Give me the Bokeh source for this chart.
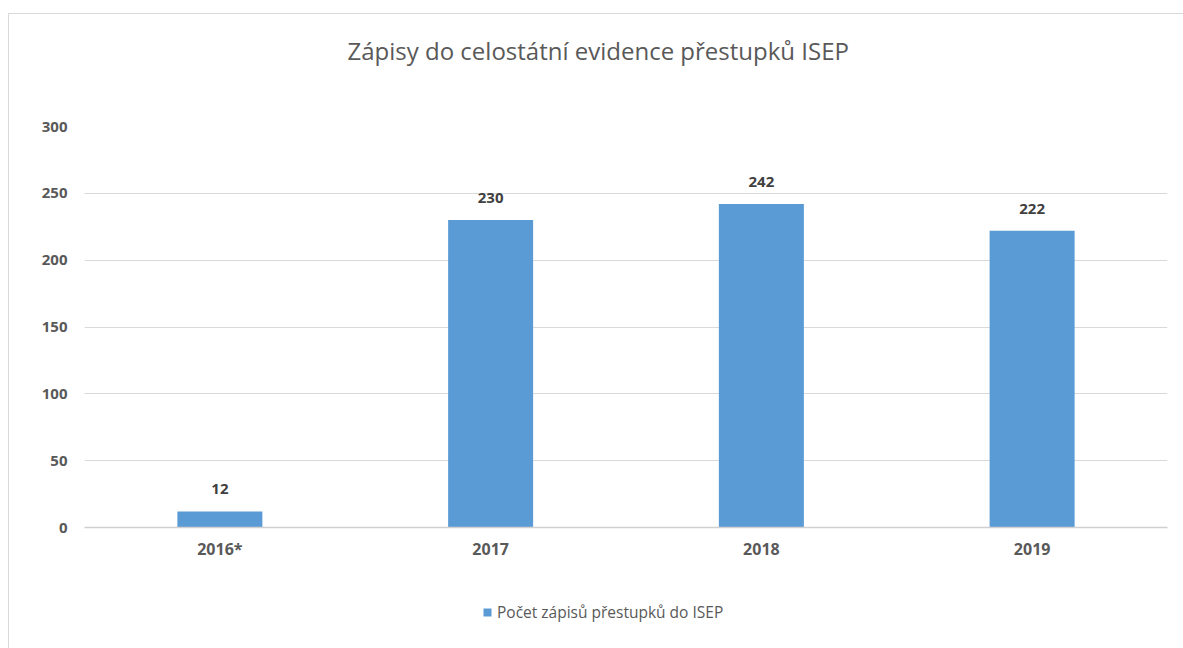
from bokeh.plotting import figure
from bokeh.layouts import column
from bokeh.models import (ColumnDataSource, Range1d, FactorRange, Legend,
                          LegendItem, Title)
from bokeh.core.properties import value
from bokeh.embed import file_html
from bokeh.resources import INLINE

categories = ["2016*", "2017", "2018", "2019"]
counts = [12, 230, 242, 222]
labels = ["12", "230", "242", "222"]
y_ticks = [0, 50, 100, 150, 200, 250, 300]
title_text = "Zápisy do celostátní evidence přestupků ISEP"
series_name = "Počet zápisů přestupků do ISEP"

FONT = "Open Sans"
GRAY = "#595959"
BAR = "#5B9BD5"

src = ColumnDataSource(dict(cat=categories, val=counts, lab=labels))

p = figure(width=1174, height=576, output_backend="svg", toolbar_location=None,
           title=None,
           x_range=FactorRange(*categories, range_padding=0),
           y_range=Range1d(0, 300),
           min_border_left=75, min_border_right=16,
           min_border_top=112, min_border_bottom=63)
p.background_fill_color = "white"
p.border_fill_color = "white"
p.outline_line_color = None

# spacer between the title and the plot area, then the chart title
p.add_layout(Title(text=" ", text_font_size="1px", standoff=55), "above")
p.add_layout(Title(text=title_text, align="left", offset=263, standoff=0,
                   vertical_align="top",
                   text_font=FONT, text_font_size="24px", text_font_style="normal",
                   text_color=GRAY), "above")

bars = p.vbar(x="cat", top="val", width=0.314, source=src,
              fill_color=BAR, line_color=None)

p.text(x="cat", y="val", text="lab", source=src, y_offset=-22,
       text_align="center", text_baseline="alphabetic",
       text_font=value(FONT), text_font_size="15px", text_font_style="bold",
       text_color="#404040")

# axes
p.yaxis.ticker = y_ticks
p.yaxis.axis_line_color = None
p.yaxis.major_tick_line_color = None
p.yaxis.minor_tick_line_color = None
p.yaxis.major_tick_out = 0
p.yaxis.major_label_standoff = 17
p.yaxis.major_label_text_font = FONT
p.yaxis.major_label_text_font_size = "15px"
p.yaxis.major_label_text_font_style = "bold"
p.yaxis.major_label_text_color = GRAY

p.xaxis.axis_line_color = "#d0d0d0"
p.xaxis.axis_line_width = 1.5
p.xaxis.major_tick_line_color = None
p.xaxis.minor_tick_line_color = None
p.xaxis.major_tick_out = 0
p.xaxis.major_label_standoff = 10
p.xaxis.major_label_text_font = FONT
p.xaxis.major_label_text_font_size = "16px"
p.xaxis.major_label_text_font_style = "bold"
p.xaxis.major_label_text_color = GRAY

p.xgrid.grid_line_color = None
p.ygrid.grid_line_color = "#d9d9d9"
p.ygrid.grid_line_width = 1

# legend strip below the chart (its key renderer sits outside the visible range)
p2 = figure(width=1174, height=58, output_backend="svg", toolbar_location=None,
            title=None, x_range=FactorRange(*categories), y_range=Range1d(1000, 1001),
            x_axis_location=None, y_axis_location=None,
            min_border=0)
p2.background_fill_color = "white"
p2.border_fill_color = "white"
p2.outline_line_color = None
p2.xgrid.visible = False
p2.ygrid.visible = False
key = p2.vbar(x="cat", top="val", width=0.3, source=src,
              fill_color=BAR, line_color=None)

legend = Legend(items=[LegendItem(label=series_name, renderers=[key])],
                location=(398, 25), orientation="horizontal",
                glyph_width=10, glyph_height=10, label_standoff=5,
                padding=0, margin=0, border_line_color=None,
                background_fill_alpha=0,
                label_text_font=FONT, label_text_font_size="15.5px",
                label_text_color=GRAY)
p2.add_layout(legend, "center")

layout = column(p, p2, spacing=0,
                styles={"margin-left": "8px", "margin-top": "13px",
                        "border-left": "1px solid #d9d9d9",
                        "border-top": "1px solid #d9d9d9"})

open("out.html", "w").write(file_html(layout, INLINE))
